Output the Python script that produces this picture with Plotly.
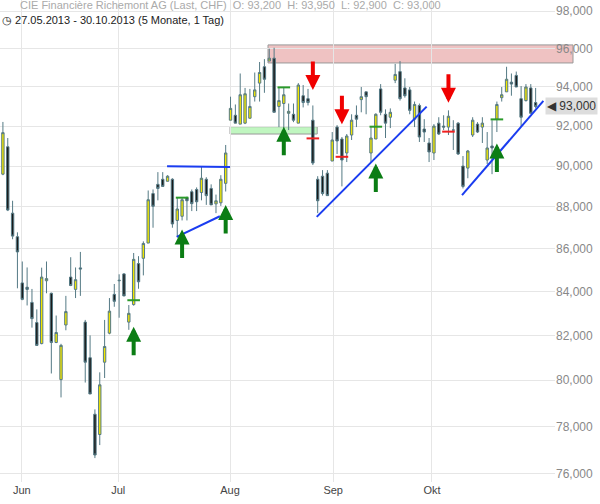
import math
import plotly.graph_objects as go

# daily candles 27.05.2013 - 30.10.2013 (trading day index)
opens = [89600, 90960, 87700, 86570, 84400, 84200, 83500, 82580, 81630, 84500,
         83920, 81680, 80030, 82470, 84670, 84100, 85100, 82600, 81000, 78520,
         77650, 80800, 82100, 83870, 84500, 84820, 82600, 83400, 85300, 85550,
         86270, 88650, 89100, 89350, 89250, 89350, 87350, 87550, 88450, 88740,
         88850, 88700, 89350, 88900, 88150, 88200, 89150, 92300, 92550, 92100,
         92150, 92400, 93500, 94200, 95050, 95350, 95500, 93000, 93150, 92650,
         92600, 92150, 93550, 93400, 92300, 89350, 89500, 89650, 90250, 91950,
         91350, 90650, 91550, 92550, 93350, 93750, 90650, 91350, 93900, 92600,
         92450, 94350, 94800, 93950, 93850, 92350, 93050, 91850, 91150, 90650,
         92150, 92000, 91950, 91800, 92150, 90000, 89900, 91550, 92100, 91950,
         90300, 91000, 92350, 93450, 93750, 94250, 94600, 93400, 93300, 93950,
         93200]
highs = [92210, 91400, 88300, 86780, 85400, 85120, 84120, 83180, 85110, 85400,
         83950, 82900, 81620, 83800, 85600, 85120, 85850, 82700, 82000, 78730,
         80350, 82700, 83700, 84350, 84800, 84850, 83380, 85800, 85650, 86350,
         88800, 88850, 89700, 89700, 89550, 89400, 88450, 88450, 88500, 88850,
         88950, 90000, 89450, 89100, 88600, 89550, 91050, 93500, 93100, 94700,
         93950, 93900, 94750, 95300, 95450, 96000, 96050, 94000, 94000, 93150,
         93150, 94200, 94100, 93900, 93050, 89500, 89800, 89800, 91700, 92050,
         91450, 91600, 92600, 93050, 94000, 93750, 91950, 92650, 94150, 92850,
         92900, 95200, 95350, 94450, 94000, 93250, 93150, 92350, 91400, 92100,
         92450, 92550, 92800, 92300, 92200, 90500, 90800, 92450, 92200, 92450,
         91700, 92300, 93250, 94000, 95050, 94700, 94800, 94050, 94150, 94150,
         93950]
lows = [89550, 87800, 86450, 84150, 83600, 83360, 82350, 81550, 81600, 83920,
        80300, 81650, 79250, 82230, 84250, 83700, 83800, 79900, 79400, 76650,
        77200, 80100, 82050, 83300, 82800, 83780, 82250, 83350, 84130, 84750,
        86270, 87000, 88320, 89000, 89250, 87000, 86550, 87350, 87350, 87800,
        87800, 88320, 88100, 88100, 87700, 88050, 88750, 92300, 92150, 92100,
        92100, 92380, 93250, 93250, 93700, 95350, 92700, 91950, 91800, 91800,
        92200, 92150, 92950, 93050, 90050, 87700, 88550, 88550, 90250, 90600,
        89000, 90200, 91300, 91950, 92700, 92600, 90200, 91350, 92550, 91400,
        91900, 94200, 93300, 93450, 92600, 91950, 91200, 91200, 90200, 90300,
        91550, 91800, 91550, 90800, 90550, 88900, 89400, 91450, 91650, 91150,
        90100, 89600, 91700, 93250, 93750, 93550, 94000, 91950, 93250, 92650,
        92900]
closes = [91670, 87850, 86600, 85850, 83640, 84100, 82760, 81550, 84670, 84600,
          81680, 82130, 81550, 83080, 84280, 84550, 85050, 80800, 79400, 76780,
          79800, 81500, 83100, 83550, 84520, 83800, 83000, 85500, 84450, 86250,
          88350, 88030, 88900, 89000, 89500, 87180, 87900, 88350, 88300, 88160,
          88250, 89400, 88550, 88100, 88300, 89350, 90650, 92900, 92150, 93600,
          93650, 93000, 93850, 94750, 94400, 95500, 92700, 93300, 93600, 92750,
          92300, 94100, 93200, 93200, 90150, 88300, 88650, 88550, 91300, 91250,
          90300, 91500, 92300, 92350, 93500, 93500, 91400, 92600, 92700, 92150,
          92700, 94650, 93400, 93550, 92800, 93100, 91450, 91700, 90700, 92000,
          91600, 91950, 92500, 91800, 90600, 89000, 90750, 92300, 91700, 92150,
          90900, 90900, 93100, 93600, 94400, 94150, 94000, 92450, 94000, 92650,
          93000]

months = ["Jun", "Jul", "Aug", "Sep", "Okt"]
month_pos = [3.9, 23.8, 46.9, 68.2, 88.6]
price_ticks = list(range(76000, 98001, 2000))

# drawings
trend_lines = [([33.9, 46.9], [89990, 89950]),
               ([35.9, 44.8], [86560, 87550]),
               ([64.8, 87.5], [87520, 92990]),
               ([94.8, 111.6], [88570, 93280])]
green_dash_x = [27, 37, 58, 77, 102]
green_dash_y = [83600, 88450, 93980, 91970, 92340]
red_dash_x = [64, 70, 92]
red_dash_y = [91380, 90460, 91720]
up_arrow_x = [27, 37, 46, 58, 77, 102]
up_arrow_y = [82390, 86910, 88090, 91970, 90130, 91130]
down_arrow_x = [64, 70, 92]
down_arrow_y = [93840, 92090, 93190]

x = list(range(len(opens)))

fig = go.Figure()
fig.add_trace(go.Candlestick(
    x=x, open=opens, high=highs, low=lows, close=closes,
    increasing=dict(fillcolor="#f2e600", line=dict(color="#557a85", width=1)),
    decreasing=dict(fillcolor="#1a1a1a", line=dict(color="#557a85", width=1)),
    whiskerwidth=0, showlegend=False, hoverinfo="skip"))

for lx, ly in trend_lines:
    fig.add_trace(go.Scatter(x=lx, y=ly, mode="lines", line=dict(color="#1a3cf0", width=2),
                             showlegend=False, hoverinfo="skip"))

fig.add_trace(go.Scatter(x=green_dash_x, y=green_dash_y, mode="markers",
                         marker=dict(symbol="line-ew", size=9, line=dict(color="#2a9a2a", width=2)),
                         showlegend=False, hoverinfo="skip"))
fig.add_trace(go.Scatter(x=red_dash_x, y=red_dash_y, mode="markers",
                         marker=dict(symbol="line-ew", size=9, line=dict(color="#f02020", width=2)),
                         showlegend=False, hoverinfo="skip"))

# annotations on a log axis take log10 positions
for ax_, ay_ in zip(up_arrow_x, up_arrow_y):
    fig.add_annotation(x=ax_, y=math.log10(ay_), text="", showarrow=True, ax=0, ay=30,
                       arrowhead=2, arrowsize=0.75, arrowwidth=4, arrowcolor="#0b7d14")
for ax_, ay_ in zip(down_arrow_x, down_arrow_y):
    fig.add_annotation(x=ax_, y=math.log10(ay_), text="", showarrow=True, ax=0, ay=-30,
                       arrowhead=2, arrowsize=0.75, arrowwidth=4, arrowcolor="#f00000")

# resistance / support zones
fig.add_shape(type="rect", xref="paper", yref="y", x0=268 / 555, x1=573 / 555,
              y0=95250, y1=96200, fillcolor="rgba(220,120,120,0.45)",
              line=dict(color="#999", width=1), layer="below")
fig.add_shape(type="rect", xref="x", yref="y", x0=46.9, x1=64.9,
              y0=91600, y1=91970, fillcolor="rgba(150,240,150,0.6)",
              line=dict(color="#999", width=1), layer="below")

fig.add_annotation(xref="paper", yref="paper", x=0.033, y=0.99, xanchor="left", yanchor="middle",
                   text="CIE Financière Richemont AG (Last, CHF)  O: 93,200  H: 93,950  L: 92,900  C: 93,000",
                   showarrow=False, font=dict(size=11, color="#aaaaaa", family="Liberation Sans"))
fig.add_annotation(xref="paper", yref="paper", x=0.0, y=0.958, xanchor="left", yanchor="middle",
                   text="◷ 27.05.2013 - 30.10.2013 (5 Monate, 1 Tag)",
                   showarrow=False, font=dict(size=11, color="#222", family="Liberation Sans"))
fig.add_annotation(xref="paper", yref="y", x=1.077, y=math.log10(closes[-1]), xanchor="right",
                   text="◀ " + f"{closes[-1]:,}", showarrow=False, bgcolor="#dddddd",
                   font=dict(size=12, color="#333", family="Liberation Sans"))

fig.update_layout(
    width=600, height=504, margin=dict(l=0, r=45, t=0, b=22),
    paper_bgcolor="white", plot_bgcolor="white",
    xaxis=dict(range=[-0.6, 114], tickvals=month_pos, ticktext=months, automargin=False,
               rangeslider=dict(visible=False), showgrid=True, gridcolor="#e6e6e6",
               zeroline=False, showline=False, ticks="",
               tickfont=dict(size=11, color="#444", family="Liberation Sans")),
    yaxis=dict(type="log", side="right", range=[4.8788, 4.9939], automargin=False,
               tickvals=price_ticks, ticktext=[f"{v:,}" for v in price_ticks],
               showgrid=True, gridcolor="#e6e6e6", zeroline=False, ticks="",
               tickfont=dict(size=12, color="#888", family="Liberation Sans")),
)

fig.write_html("out.html", config={"displayModeBar": False},
               post_script="document.body.style.margin='0';")
